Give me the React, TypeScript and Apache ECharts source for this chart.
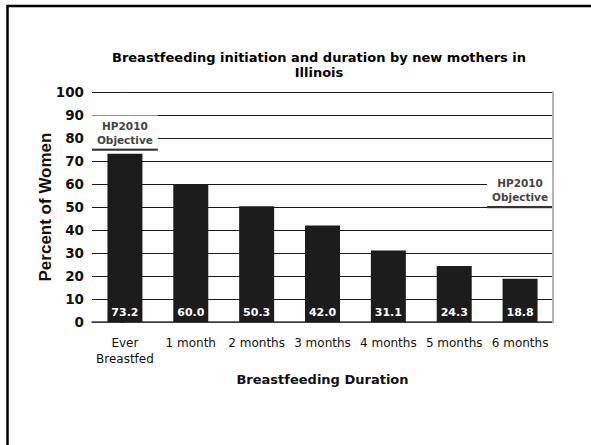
import React, { useEffect, useRef } from "react";
import * as echarts from "echarts";

const chartTitle = "Breastfeeding initiation and duration by new mothers in\nIllinois";
const categories = ["Ever\nBreastfed", "1 month", "2 months", "3 months", "4 months", "5 months", "6 months"];
const percentWomen = [73.2, 60.0, 50.3, 42.0, 31.1, 24.3, 18.8];
const objectiveCategoryIndex = [0, 6];
const objectiveValues = [75, 50];
const objectiveLabel = "HP2010\nObjective";
const yMin = 0;
const yMax = 100;
const yInterval = 10;
const xAxisTitle = "Breastfeeding Duration";
const yAxisTitle = "Percent of Women";

export default function App() {
  const ref = useRef<HTMLDivElement>(null);
  useEffect(() => {
    if (!ref.current) return;
    const chart = echarts.init(ref.current, undefined, { renderer: "svg" });
    const objectiveSeries = objectiveCategoryIndex.map((idx, i) => ({
      type: "line",
      xAxisIndex: 1,
      yAxisIndex: 0,
      symbol: "circle",
      symbolSize: 0,
      showSymbol: true,
      silent: true,
      z: 5,
      lineStyle: { color: "#333", width: 2.5 },
      data: [
        [idx - 0.5, objectiveValues[i]],
        {
          value: [idx, objectiveValues[i]],
          label: {
            show: true,
            position: "top",
            distance: 1,
            formatter: objectiveLabel,
            backgroundColor: "#fff",
            padding: [3, 5, 2, 5],
            lineHeight: 14,
            fontFamily: "DejaVu Sans",
            fontWeight: "bold",
            fontSize: 10.5,
            color: "#444",
            align: "center",
          },
        },
        [idx + 0.5, objectiveValues[i]],
      ],
    }));
    chart.setOption({
      animation: false,
      backgroundColor: "#fff",
      title: {
        text: chartTitle,
        left: 314,
        top: 45,
        textAlign: "center",
        textStyle: {
          fontFamily: "DejaVu Sans",
          fontWeight: "bold",
          fontSize: 13,
          lineHeight: 15,
          color: "#000",
        },
      },
      graphic: [
        {
          type: "rect",
          z: -1,
          shape: { x: 7.5, y: 6, width: 640, height: 480 },
          style: { fill: "none", stroke: "#000", lineWidth: 2.5 },
        },
      ],
      grid: { left: 92, right: 38, top: 92, bottom: 123 },
      xAxis: [
        {
          type: "category",
          data: categories,
          axisLine: { show: true, lineStyle: { color: "#444", width: 1.5 } },
          axisTick: { show: false },
          axisLabel: {
            interval: 0,
            margin: 13,
            fontFamily: "DejaVu Sans",
            fontSize: 12,
            lineHeight: 16,
            color: "#111",
          },
          name: xAxisTitle,
          nameLocation: "middle",
          nameGap: 51,
          nameMoveOverlap: false,
          nameTextStyle: {
            fontFamily: "DejaVu Sans",
            fontWeight: "bold",
            fontSize: 13,
            color: "#111",
          },
        },
        {
          type: "value",
          min: -0.5,
          max: 6.5,
          show: false,
        },
      ],
      yAxis: [
        {
          type: "value",
          min: yMin,
          max: yMax,
          interval: yInterval,
          axisLine: { show: false },
          axisTick: { show: true, length: 4, lineStyle: { color: "#222" } },
          splitLine: { show: true, lineStyle: { color: "#1a1a1a", width: 1 } },
          axisLabel: {
            margin: 8,
            fontFamily: "DejaVu Sans",
            fontWeight: "bold",
            fontSize: 13.5,
            color: "#111",
          },
          name: yAxisTitle,
          nameLocation: "middle",
          nameRotate: 90,
          nameGap: 38,
          nameMoveOverlap: false,
          nameTextStyle: {
            fontFamily: "Liberation Sans",
            fontWeight: "bold",
            fontSize: 17,
            color: "#111",
          },
        },
        {
          type: "value",
          position: "right",
          min: yMin,
          max: yMax,
          z: 10,
          axisLine: { show: true, lineStyle: { color: "#b5b5b5", width: 2 } },
          axisTick: { show: false },
          axisLabel: { show: false },
          splitLine: { show: false },
        },
      ],
      series: [
        {
          type: "bar",
          data: percentWomen,
          barWidth: 35,
          itemStyle: { color: "#1c1c1c" },
          label: {
            show: true,
            position: "insideBottom",
            distance: 4,
            formatter: (p: any) => Number(p.value).toFixed(1),
            fontFamily: "DejaVu Sans",
            fontWeight: "bold",
            fontSize: 11,
            color: "#fff",
          },
        },
        ...objectiveSeries,
      ],
    });
    return () => chart.dispose();
  }, []);
  return (
    <div
      ref={ref}
      style={{ position: "fixed", left: 0, top: 0, width: 591, height: 445 }}
    />
  );
}
